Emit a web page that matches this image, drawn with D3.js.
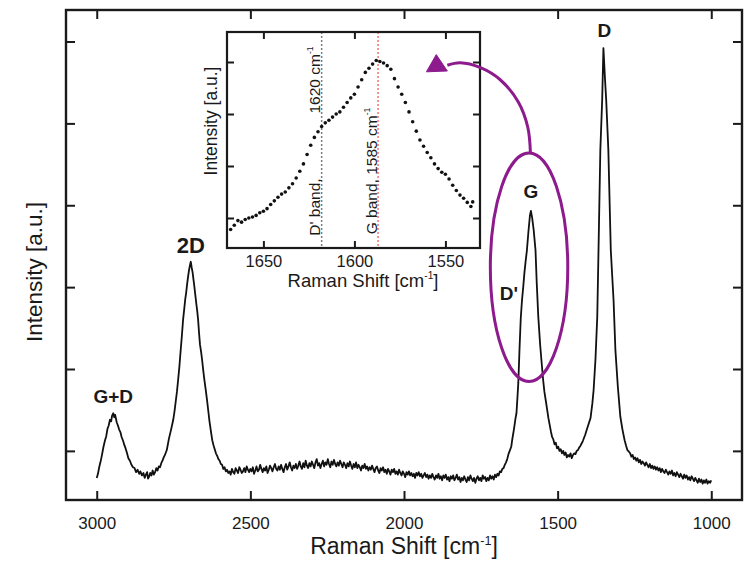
<!DOCTYPE html>
<html>
<head>
<meta charset="utf-8">
<script src="https://cdn.jsdelivr.net/npm/d3@7"></script>
<style>
  html, body { margin: 0; padding: 0; background: #fff; }
  svg { display: block; }
  text { font-family: "Liberation Sans", Arial, Helvetica, sans-serif; fill: #1a1a1a; }
</style>
</head>
<body>
<svg id="chart" width="748" height="564"></svg>
<script>
// ---------------- DATA ----------------
const xTicks = [3000, 2500, 2000, 1500, 1000];
const yTicks = [1, 2, 3, 4, 5, 6];
const insetXTicks = [1650, 1600, 1550];
const insetYTicks = [1, 2, 3, 4];

// Main Raman spectrum: [Raman shift (cm^-1), intensity (a.u.)]
const spectrum = [
  [3000,.67],[2996,.72],[2992,.80],[2988,.86],[2984,.93],[2978,1.05],[2973,1.13],[2969,1.18],[2965,1.27],[2961,1.31],
  [2957,1.38],[2953,1.36],[2950,1.43],[2946,1.46],[2943,1.41],[2940,1.44],[2935,1.35],[2931,1.31],[2927,1.26],
  [2923,1.23],[2919,1.17],[2914,1.12],[2910,1.07],[2906,1.03],[2902,.98],[2897,.91],[2892,.88],[2887,.83],
  [2882,.80],[2877,.79],[2872,.74],[2867,.77],[2862,.72],[2858,.75],[2853,.70],[2848,.73],[2844,.67],[2840,.71],
  [2836,.74],[2833,.66],[2829,.69],[2826,.73],[2822,.70],[2818,.76],[2814,.71],[2810,.74],[2806,.79],[2802,.76],
  [2798,.81],[2794,.80],[2790,.85],[2786,.88],[2782,.92],[2778,.95],[2772,1.01],[2765,1.15],[2758,1.26],[2751,1.38],
  [2747,1.48],[2743,1.60],[2739,1.72],[2735,1.87],[2731,2.03],[2727,2.22],[2723,2.40],[2719,2.60],[2715,2.74],
  [2712,2.85],[2709,2.93],[2706,3.03],[2703,3.12],[2700,3.20],[2697,3.26],[2694,3.31],[2691,3.24],[2688,3.18],
  [2685,3.09],[2683,3.03],[2679,2.90],[2676,2.80],[2673,2.71],[2670,2.60],[2667,2.44],[2664,2.30],[2660,2.20],
  [2657,2.11],[2653,1.97],[2649,1.85],[2645,1.74],[2641,1.62],[2637,1.49],[2633,1.36],[2628,1.23],[2624,1.13],
  [2620,1.07],[2616,1.02],[2612,.97],[2608,.94],[2604,.90],[2600,.88],[2596,.84],[2592,.83],[2588,.78],[2584,.80],
  [2580,.75],[2576,.77],
  [2572,.73],[2568,.75],[2564,.71],[2560,.78],[2556,.74],[2552,.72],[2548,.79],[2544,.76],[2540,.73],[2536,.80],
  [2532,.77],[2528,.73],[2524,.75],[2520,.79],[2516,.74],[2512,.81],[2508,.77],[2504,.74],[2500,.78],[2496,.75],
  [2492,.80],[2488,.72],[2484,.76],[2480,.81],[2476,.75],[2472,.77],[2468,.83],[2464,.78],[2460,.74],[2456,.79],
  [2452,.76],[2448,.81],[2444,.73],[2440,.77],[2436,.82],[2432,.79],[2428,.75],[2424,.80],[2420,.84],[2416,.78],
  [2412,.76],[2408,.81],[2404,.77],[2400,.83],[2396,.78],[2392,.74],[2388,.80],[2384,.84],[2380,.77],[2376,.81],
  [2372,.86],[2368,.80],[2364,.76],[2360,.82],[2356,.79],[2352,.84],[2348,.78],[2344,.82],[2340,.87],[2336,.81],
  [2332,.78],[2328,.85],[2324,.80],[2320,.88],[2316,.82],[2312,.79],[2308,.85],[2304,.81],[2300,.87],[2296,.83],
  [2292,.79],[2288,.86],[2284,.90],[2280,.82],[2276,.85],[2272,.79],[2268,.84],[2264,.88],[2260,.81],[2256,.86],
  [2252,.83],[2248,.90],[2244,.84],[2240,.80],[2236,.87],[2232,.83],[2228,.89],[2224,.84],[2220,.81],[2216,.86],
  [2212,.82],[2208,.88],[2204,.84],[2200,.80],[2196,.86],[2192,.83],[2188,.79],[2184,.85],[2180,.81],[2176,.87],
  [2172,.82],[2168,.78],[2164,.84],[2160,.80],[2156,.86],[2152,.79],[2148,.83],[2144,.80],[2140,.76],[2136,.82],
  [2132,.79],[2128,.84],[2124,.78],[2120,.81],[2116,.76],[2112,.80],[2108,.77],[2104,.82],[2100,.78],[2096,.74],
  [2092,.79],[2088,.81],[2084,.76],[2080,.73],[2076,.79],[2072,.76],[2068,.80],[2064,.74],[2060,.77],[2056,.72],
  [2052,.78],[2048,.75],[2044,.71],[2040,.77],[2036,.74],[2032,.78],[2028,.72],[2024,.75],[2020,.71],[2016,.77],
  [2012,.73],[2008,.70],[2004,.75],[2000,.72],[1996,.68],[1992,.74],[1988,.71],[1984,.75],[1980,.70],[1976,.73],
  [1972,.69],[1968,.72],[1964,.67],[1960,.73],[1956,.70],[1952,.74],[1948,.69],[1944,.72],[1940,.67],[1936,.70],
  [1932,.73],[1928,.68],[1924,.71],[1920,.66],[1916,.70],[1912,.67],[1908,.72],[1904,.68],[1900,.65],[1896,.70],
  [1892,.67],[1888,.72],[1884,.66],[1880,.69],[1876,.64],[1872,.70],[1868,.67],[1864,.71],[1860,.65],[1856,.68],
  [1852,.63],[1848,.69],[1844,.66],[1840,.70],[1836,.64],[1832,.67],[1828,.71],[1824,.65],[1820,.68],[1816,.62],
  [1812,.67],[1808,.64],[1804,.69],[1800,.65],[1796,.62],[1792,.68],[1788,.64],[1784,.70],[1780,.66],[1776,.63],
  [1772,.67],[1768,.61],[1764,.66],[1760,.69],[1756,.64],[1752,.67],[1748,.63],[1744,.70],[1740,.66],[1736,.68],
  [1732,.63],[1728,.67],[1724,.64],[1720,.70],[1716,.66],[1712,.69],[1708,.65],[1704,.71],[1700,.68],[1696,.72],
  [1692,.70],[1688,.75],[1684,.74],[1680,.78],[1676,.79],[1672,.83],
  [1668,.86],[1664,.90],[1660,.96],[1656,1.00],[1651,1.05],[1648,1.13],[1645,1.20],[1642,1.27],[1640,1.32],
  [1637,1.40],[1634,1.46],[1631,1.64],[1628,1.83],[1624,2.25],[1620,2.62],[1616,2.84],[1612,3.00],[1608,3.18],
  [1604,3.32],[1600,3.45],[1595,3.68],[1590,3.88],[1587,3.93],[1583,3.85],[1578,3.70],[1572,3.45],[1568,3.05],
  [1563,2.64],[1557,2.30],[1551,2.03],[1547,1.86],[1543,1.72],[1538,1.60],[1534,1.50],[1530,1.40],[1526,1.32],
  [1522,1.24],[1518,1.17],[1514,1.14],[1510,1.08],[1506,1.10],[1502,1.03],[1498,1.05],[1494,1.00],[1490,1.02],
  [1486,.97],[1482,1.00],[1478,.95],[1474,.98],[1470,.92],[1466,.95],[1462,.93],[1458,.97],[1454,.91],[1450,.95],
  [1446,.97],[1442,.96],[1438,1.00],[1434,1.01],[1430,1.04],[1426,1.06],[1422,1.09],[1418,1.12],[1414,1.16],
  [1410,1.20],[1406,1.25],[1400,1.32],[1393,1.40],[1387,1.58],[1383,1.74],[1377,2.11],[1371,2.64],[1367,3.45],
  [1361,4.68],[1355,5.29],[1351,5.92],[1346,5.55],[1342,5.29],[1335,4.68],[1327,3.45],[1318,2.84],[1312,2.23],
  [1304,1.78],[1296,1.42],[1289,1.26],[1282,1.13],[1277,1.06],[1273,1.01],[1268,.99],
  [1264,.97],[1260,.93],[1256,.95],[1252,.90],[1248,.92],[1244,.88],[1240,.91],[1236,.86],[1232,.89],[1228,.84],
  [1224,.87],[1220,.85],[1216,.82],[1212,.86],[1208,.83],[1204,.80],[1200,.84],[1196,.79],[1192,.82],[1188,.78],
  [1184,.81],[1180,.77],[1176,.80],[1172,.76],[1168,.79],[1164,.74],[1160,.78],[1156,.75],[1152,.73],[1148,.77],
  [1144,.74],[1140,.71],[1136,.75],[1132,.72],[1128,.76],[1124,.70],[1120,.73],[1116,.69],[1112,.74],[1108,.71],
  [1104,.68],[1100,.72],[1096,.69],[1092,.66],[1088,.71],[1084,.67],[1080,.70],[1076,.65],[1072,.68],[1068,.64],
  [1064,.69],[1060,.66],[1056,.63],[1052,.67],[1048,.64],[1044,.61],[1040,.66],[1036,.62],[1032,.65],[1028,.60],
  [1024,.64],[1020,.61],[1016,.65],[1012,.60],[1008,.63],[1004,.61],[1000,.64]
];

// Inset (G / D' region), dotted data
const insetSpectrum = [
  [1668,.78],[1666,.86],[1664,.95],[1662,.92],[1660,.97],[1658,1.00],[1656,1.02],[1654,1.05],[1652,1.10],
  [1650,1.13],[1648,1.18],[1646,1.26],[1644,1.33],[1642,1.40],[1640,1.46],[1638,1.50],[1636,1.58],[1634,1.66],
  [1632,1.77],[1630,1.90],[1628,2.04],[1626,2.22],[1624,2.40],[1622,2.55],[1620,2.66],[1618,2.76],[1616,2.83],
  [1614,2.88],[1612,2.94],[1610,3.00],[1608,3.04],[1606,3.13],[1604,3.22],[1602,3.31],[1600,3.38],[1598,3.52],
  [1596,3.66],[1594,3.80],[1592,3.88],[1590,3.96],[1588,4.03],[1586,4.01],[1584,3.98],[1582,3.93],[1580,3.86],
  [1578,3.68],[1576,3.52],[1574,3.38],[1572,3.22],[1570,3.04],[1568,2.85],[1566,2.67],[1564,2.50],[1562,2.38],
  [1560,2.26],[1558,2.16],[1556,2.04],[1554,1.95],[1552,1.88],[1550,1.84],[1548,1.75],[1546,1.63],[1544,1.53],
  [1542,1.44],[1540,1.38],[1538,1.30],[1536,1.22],[1535,1.31]
];

// Band marker lines in the inset
const bandNames = ["D' band,", "G band,"];
const bandValues = ["1620", "1585"];
const bandLinePos = [1618, 1587];

// Peak labels on the main spectrum
const peakNames = ["G+D", "2D", "D'", "G", "D"];
const peakPos = [2946, 2694, 1616, 1587, 1351];

// Annotation (ellipse around G/D', arrow to inset), in data units
const ellipseCenter = [1593, 3.243];
const ellipseRadii = [126, 1.396];
const arrowPath = [[1588.6,4.64],[1597,4.95],[1628,5.26],[1686,5.53],[1751,5.68],[1817,5.74],[1859,5.71]];
const arrowHead = [[1927,5.63],[1895,5.84],[1859,5.64]];

// ---------------- DRAW ----------------
const svg = d3.select("#chart");
const purple = "#8d1b8d";

const M = {l: 66, t: 10, r: 742, b: 500};
const x = d3.scaleLinear().domain([3100, 900]).range([M.l, M.r]);
const y = d3.scaleLinear().domain([0.40, 6.385]).range([M.b, M.t]);

function styleAxis(g, fs) {
  g.select(".domain").remove();
  g.selectAll(".tick line").attr("stroke", "#1a1a1a").attr("stroke-width", 2);
  g.selectAll(".tick text").attr("font-size", fs).attr("fill", "#1a1a1a")
    .style("font-family", '"Liberation Sans", Arial, sans-serif');
}

svg.append("g").attr("transform", `translate(0,${M.b})`)
  .call(d3.axisBottom(x).tickValues(xTicks).tickSizeInner(-9).tickSizeOuter(0).tickPadding(17).tickFormat(d3.format("d")))
  .call(g => styleAxis(g, 17));
svg.append("g").attr("transform", `translate(0,${M.t})`)
  .call(d3.axisTop(x).tickValues(xTicks).tickSizeInner(-9).tickSizeOuter(0).tickFormat(""))
  .call(g => styleAxis(g, 17));
svg.append("g").attr("transform", `translate(${M.l},0)`)
  .call(d3.axisLeft(y).tickValues(yTicks).tickSizeInner(-9).tickSizeOuter(0).tickFormat(""))
  .call(g => styleAxis(g, 17));
svg.append("g").attr("transform", `translate(${M.r},0)`)
  .call(d3.axisRight(y).tickValues(yTicks).tickSizeInner(-9).tickSizeOuter(0).tickFormat(""))
  .call(g => styleAxis(g, 17));

svg.append("rect").attr("x", M.l).attr("y", M.t).attr("width", M.r - M.l).attr("height", M.b - M.t)
  .attr("fill", "none").attr("stroke", "#1a1a1a").attr("stroke-width", 2.4);

// spectrum
const line = d3.line().x(d => x(d[0])).y(d => y(d[1]));
svg.append("path").datum(spectrum).attr("d", line)
  .attr("fill", "none").attr("stroke", "#111").attr("stroke-width", 1.8).attr("stroke-linejoin", "round");

// peak labels
const labelStyle = {
  "G+D": {dx: 0, dy: -10, fs: 19, anchor: "middle"},
  "2D":  {dx: 0, dy: -9, fs: 22, anchor: "middle"},
  "D'":  {dx: -13, dy: 0, fs: 19, anchor: "middle"},
  "G":   {dx: 0, dy: -13, fs: 19, anchor: "middle"},
  "D":   {dx: 1, dy: -11, fs: 19, anchor: "middle"}
};
peakNames.forEach((name, i) => {
  const p = spectrum.find(d => d[0] === peakPos[i]);
  const s = labelStyle[name];
  svg.append("text").attr("x", x(p[0]) + s.dx).attr("y", y(p[1]) + s.dy)
    .attr("text-anchor", s.anchor).attr("font-size", s.fs).attr("font-weight", "bold").text(name);
});

// axis titles
function cmTitle(sel) {
  sel.append("tspan").text("Raman Shift [cm");
  sel.append("tspan").attr("font-size", "55%").attr("dy", "-0.75em").text("-1");
  sel.append("tspan").attr("dy", "0.42em").text("]");
}
svg.append("text").attr("x", 404).attr("y", 554).attr("text-anchor", "middle").attr("font-size", 23).call(cmTitle);
svg.append("text").attr("transform", "translate(42,272) rotate(-90)").attr("text-anchor", "middle")
  .attr("font-size", 22.5).text("Intensity [a.u.]");

// ---------------- INSET ----------------
const I = {l: 227, t: 32, r: 480, b: 248};
const xi = d3.scaleLinear().domain([1670, 1531]).range([I.l, I.r]);
const yi = d3.scaleLinear().domain([0.423, 4.577]).range([I.b, I.t]);

svg.append("rect").attr("x", I.l).attr("y", I.t).attr("width", I.r - I.l).attr("height", I.b - I.t).attr("fill", "#fff");

svg.append("g").attr("transform", `translate(0,${I.b})`)
  .call(d3.axisBottom(xi).tickValues(insetXTicks).tickSizeInner(-7).tickSizeOuter(0).tickPadding(7).tickFormat(d3.format("d")))
  .call(g => styleAxis(g, 16.5));
svg.append("g").attr("transform", `translate(0,${I.t})`)
  .call(d3.axisTop(xi).tickValues(insetXTicks).tickSizeInner(-7).tickSizeOuter(0).tickFormat(""))
  .call(g => styleAxis(g, 16));
svg.append("g").attr("transform", `translate(${I.l},0)`)
  .call(d3.axisLeft(yi).tickValues(insetYTicks).tickSizeInner(-7).tickSizeOuter(0).tickFormat(""))
  .call(g => styleAxis(g, 16));
svg.append("g").attr("transform", `translate(${I.r},0)`)
  .call(d3.axisRight(yi).tickValues(insetYTicks).tickSizeInner(-7).tickSizeOuter(0).tickFormat(""))
  .call(g => styleAxis(g, 16));

// band lines
const bandColors = ["#7d7d7d", "#ee7777"];
bandLinePos.forEach((b, i) => {
  svg.append("line").attr("x1", xi(b)).attr("x2", xi(b)).attr("y1", I.t).attr("y2", I.b)
    .attr("stroke", bandColors[i]).attr("stroke-width", 1.5).attr("stroke-dasharray", "2,2");
});

// band texts (rotated)
function bandText(xpos, ypos, str, sup) {
  const t = svg.append("text").attr("transform", `translate(${xpos},${ypos}) rotate(-90)`)
    .attr("text-anchor", "middle").attr("font-size", 15.5);
  t.append("tspan").text(str);
  if (sup) {
    t.append("tspan").attr("font-size", "55%").attr("dy", "-0.8em").text("-1");
  }
}
bandText(xi(bandLinePos[0]) - 1.5, 207, bandNames[0], false);
bandText(xi(bandLinePos[0]) - 1.5, 80, bandValues[0] + " cm", true);
bandText(xi(bandLinePos[1]) - 1.5, 171, bandNames[1] + " " + bandValues[1] + " cm", true);

// inset dots
svg.append("g").selectAll("circle").data(insetSpectrum).join("circle")
  .attr("cx", d => xi(d[0])).attr("cy", d => yi(d[1])).attr("r", 1.8).attr("fill", "#111");

svg.append("rect").attr("x", I.l).attr("y", I.t).attr("width", I.r - I.l).attr("height", I.b - I.t)
  .attr("fill", "none").attr("stroke", "#1a1a1a").attr("stroke-width", 2.2);

svg.append("text").attr("x", 363).attr("y", 287).attr("text-anchor", "middle").attr("font-size", 18.5).call(cmTitle);
svg.append("text").attr("transform", "translate(217,121) rotate(-90)").attr("text-anchor", "middle")
  .attr("font-size", 17.5).text("Intensity [a.u.]");

// ---------------- ANNOTATIONS ----------------
svg.append("ellipse")
  .attr("cx", x(ellipseCenter[0])).attr("cy", y(ellipseCenter[1]))
  .attr("rx", Math.abs(x(ellipseCenter[0] - ellipseRadii[0]) - x(ellipseCenter[0])))
  .attr("ry", Math.abs(y(ellipseCenter[1] + ellipseRadii[1]) - y(ellipseCenter[1])))
  .attr("fill", "none").attr("stroke", purple).attr("stroke-width", 3);

svg.append("path").datum(arrowPath)
  .attr("d", d3.line().x(d => x(d[0])).y(d => y(d[1])).curve(d3.curveCatmullRom))
  .attr("fill", "none").attr("stroke", purple).attr("stroke-width", 3);

svg.append("path").datum(arrowHead)
  .attr("d", d3.line().x(d => x(d[0])).y(d => y(d[1])).curve(d3.curveLinearClosed))
  .attr("fill", purple).attr("stroke", purple).attr("stroke-width", 1).attr("stroke-linejoin", "round");
</script>
</body>
</html>
